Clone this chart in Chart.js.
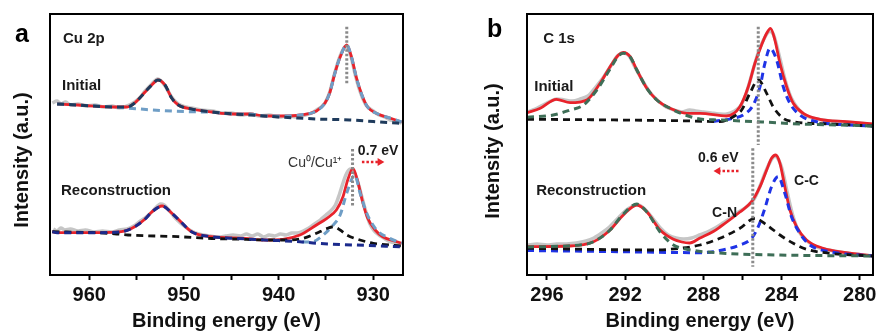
<!DOCTYPE html>
<html>
<head>
<meta charset="utf-8">
<script src="https://cdn.jsdelivr.net/npm/chart.js@4.4.1/dist/chart.umd.min.js"></script>
<style>
  body { margin: 0; background: #fff; }
  #wrap { position: relative; width: 880px; height: 335px; }
  canvas { position: absolute; top: 0; }
</style>
</head>
<body>
<div id="wrap">
  <canvas id="cuChart" width="440" height="335" style="left:0"></canvas>
  <canvas id="cChart" width="440" height="335" style="left:440px"></canvas>
</div>
<script>
// ---- Cu 2p (panel a) : [binding energy, intensity] ----
const aTicks = [960, 955, 950, 945, 940, 935, 930];
const aTickLabels = [960, 950, 940, 930];

const aInitRaw = [[963.9,172],[963.4,174],[963.0,171],[962.5,173],[962.0,170],[961.2,171],[960.3,169],[959.4,170],[958.5,168],[957.6,169],[956.8,167],[956.0,169],[955.2,173],[954.6,178],[954.1,184],[953.4,191],[952.8,196],[952.3,193],[951.8,186],[951.3,178],[950.6,171],[949.8,168],[949.2,167],[948.2,165],[947.0,164],[946.0,162],[945.0,162],[944.0,160],[943.0,161],[942.0,159],[941.0,160],[940.0,158],[939.0,159],[938.0,158],[937.2,160],[936.5,162],[936.0,165],[935.5,168],[935.1,172],[934.6,183],[934.1,201],[933.5,219],[932.9,229],[932.4,220],[931.9,200],[931.3,181],[930.7,169],[930.0,164],[929.4,160],[928.8,158],[928.2,155],[927.6,154],[927.0,152]];
const aInitFit = [[963.4,171],[961.2,170],[957.6,168],[956.0,168],[955.2,172],[954.1,183],[953.4,190],[952.75,195],[952.0,190],[951.3,177],[950.6,170],[949.2,166],[947.05,163],[944.8,161],[943.0,161],[941.45,159],[939.5,159],[937.75,160],[936.0,164],[935.1,172],[934.6,182],[934.05,202],[933.5,218],[932.8,230],[932.3,218],[931.8,198],[931.2,180],[930.6,168],[929.5,161],[928.25,157],[927.0,153]];
const aInit933 = [[963.4,171],[961.2,170],[957.6,168],[956.0,167],[954.0,165.5],[952.0,164.3],[950.0,163.5],[948.0,163],[947.05,162.8],[944.8,161],[943.0,161],[941.45,159],[939.5,159],[937.75,160],[936.0,164],[935.1,172],[934.6,182],[934.05,202],[933.5,218],[932.8,230],[932.3,218],[931.8,198],[931.2,180],[930.6,168],[929.5,161],[928.25,157],[927.0,153]];
const aInit953 = [[963.4,171],[961.2,170],[957.6,168],[956.0,168],[955.2,172],[954.1,183],[953.4,190],[952.75,195],[952.0,190],[951.3,177],[950.6,170],[949.2,166],[947.05,163],[944.8,161],[943.0,160],[940.0,158],[938.0,157],[936.0,156],[934.0,155.5],[932.5,155],[930.0,153.5],[928.5,152.5],[927.0,151.7]];

const aRecRaw = [[963.8,46],[963.4,44],[963.0,47],[962.6,45],[962.0,46],[961.2,44],[960.4,45],[959.5,43],[958.6,44],[957.6,43],[956.8,45],[956.0,46],[955.3,49],[954.6,54],[954.0,58],[953.4,63],[952.9,68],[952.5,71],[952.1,70],[951.6,65],[951.1,59],[950.6,54],[950.0,49],[949.4,45],[948.8,42],[948.0,40],[947.2,39],[946.4,38],[945.6,39],[944.8,40],[944.0,39],[943.4,41],[942.8,39],[942.2,41],[941.6,38],[941.0,40],[940.4,39],[939.8,41],[939.2,40],[938.6,42],[938.0,42],[937.4,44],[936.8,47],[936.2,51],[935.6,55],[935.0,60],[934.5,64],[934.0,70],[933.6,80],[933.2,92],[932.8,102],[932.4,106],[932.0,102],[931.6,92],[931.2,78],[930.8,64],[930.4,52],[929.9,44],[929.4,40],[928.9,37],[928.4,34],[927.8,32],[927.2,30]];
const aRecFit = [[963.9,43.3],[963.4,42.3],[959.4,42.3],[956.6,43.3],[955.2,48.3],[954.1,56],[953.4,63],[952.3,69],[951.3,62],[950.2,52],[949.2,43.3],[947.1,38.3],[943.6,36.7],[941.45,35],[939.55,35.7],[937.75,40],[936.0,50],[934.9,56.7],[933.9,65],[933.2,78.3],[932.7,95],[932.15,106.7],[931.6,92],[931.1,72],[930.6,57],[929.8,45],[929.0,38.3],[927.5,33.3],[927.0,31.7]];
const aRec952 = [[963.9,43.3],[963.4,42.3],[959.4,42.3],[956.6,43.3],[955.2,48.3],[954.1,56],[953.4,63],[952.3,69],[951.3,62],[950.2,52],[949.2,43.3],[947.1,38.3],[944.8,36.8],[941.5,35],[937.75,33.3],[936.0,31.7],[932.0,30],[927.0,28.3]];
const aRec934 = [[963.9,43.3],[959.4,42.3],[957.1,41],[955.9,40],[950.6,38.3],[947.05,36.5],[944.8,36],[941.0,35],[938.8,35],[937.4,36.7],[936.0,41.7],[935.0,46],[934.2,48.3],[933.5,45],[932.8,40],[931.4,35],[930.0,31.7],[928.25,30],[927.0,29]];
const aRec932 = [[937.5,33],[936.4,33.3],[935.5,38.3],[934.4,48.3],[933.5,60],[932.8,82],[931.95,100],[931.4,82],[930.7,62],[929.65,45],[928.25,36.7],[927.0,31.7]];

const aShiftInit = [[932.8,248.3],[932.8,190]];
const aShiftRec = [[932.19,126],[932.19,68]];
const aArrow = [[931.2,113],[929.3,113]];

// ---- C 1s (panel b) ----
const bTicks = [296, 294, 292, 290, 288, 286, 284, 282, 280];
const bTickLabels = [296, 292, 288, 284, 280];

const bInitRaw = [[297.0,163],[296.6,166],[296.2,170],[295.8,174],[295.5,176],[295.1,175],[294.7,174],[294.3,176],[293.9,179],[293.5,188],[293.1,198],[292.7,210],[292.4,219],[292.1,222],[291.8,219],[291.5,208],[291.1,194],[290.7,182],[290.3,174],[289.9,168],[289.5,165],[289.1,163],[288.7,165],[288.4,164],[288.0,163],[287.6,162],[287.2,161],[286.8,161],[286.4,164],[286.1,169],[285.8,182],[285.5,202],[285.2,222],[284.9,236],[284.6,244],[284.4,240],[284.1,218],[283.8,194],[283.5,177],[283.1,165],[282.7,159],[282.2,156],[281.5,154],[280.8,153],[280.0,152],[279.3,150]];
const bInitFit = [[297.02,162.3],[296.34,166.7],[295.52,175.7],[294.81,172.3],[293.96,175],[293.28,191.7],[292.77,208.3],[292.34,220],[292.09,222.7],[291.74,218.3],[291.4,205],[290.89,186.7],[290.38,175],[289.7,166.7],[288.85,161.7],[288.17,161.7],[286.81,159],[286.13,168.3],[285.7,188.3],[285.36,211.7],[285.02,230],[284.76,241.7],[284.56,246.7],[284.34,235],[284.08,211.7],[283.74,188.3],[283.4,171.7],[282.89,161.7],[282.04,155.7],[280.68,153.3],[279.32,151]];
const bInit292 = [[297.02,157.7],[295.68,160],[294.81,165],[294.13,170],[293.45,185],[292.77,206],[292.34,219],[292.09,221.7],[291.74,218],[291.4,205],[290.89,186.7],[290.38,175],[289.7,166.7],[288.85,159.5],[288.17,156],[287.15,155],[285.0,153],[283.06,151],[281.0,150],[279.32,149]];
const bInit285 = [[297.02,155.7],[292.26,155],[288.5,154],[287.15,153.3],[286.47,158.3],[286.04,165],[285.62,181.7],[285.19,195],[284.76,181.7],[284.43,168.3],[283.91,156.7],[283.4,153.3],[281.53,151],[279.32,149]];
const bInit284 = [[287.5,153.5],[286.47,156.7],[285.96,160],[285.45,170],[285.1,188.3],[284.85,211.7],[284.59,226.7],[284.25,215],[283.91,188.3],[283.57,171.7],[283.06,160],[282.21,153.3],[280.5,150],[279.32,149]];

const bRecRaw = [[297.0,30],[296.5,31],[296.0,30],[295.5,31],[295.0,31],[294.5,32],[294.0,34],[293.6,37],[293.2,42],[292.8,48],[292.4,56],[292.0,64],[291.6,69],[291.3,70],[291.0,66],[290.6,57],[290.2,47],[289.8,40],[289.4,37],[289.0,36],[288.6,37],[288.2,40],[287.8,43],[287.4,47],[287.0,52],[286.6,57],[286.2,63],[285.8,68],[285.4,76],[285.1,89],[284.8,104],[284.5,116],[284.3,119],[284.0,108],[283.7,82],[283.4,58],[283.1,43],[282.7,34],[282.2,28],[281.6,25],[281.0,23],[280.3,21],[279.3,19]];
const bRecFit = [[297.02,28.3],[294.81,29],[293.62,33.3],[292.77,45],[292.09,60],[291.4,70],[290.89,63.3],[290.21,45],[289.53,35.7],[289.1,33],[288.7,32],[288.17,37],[287.49,43.5],[287.15,48],[286.13,63],[285.53,73.3],[285.1,88.3],[284.76,105],[284.51,116.7],[284.3,120],[284.08,111.7],[283.83,88.3],[283.57,65],[283.23,48.3],[282.72,35],[281.87,26.7],[280.68,22.3],[279.32,19]];
const bRec291 = [[297.02,28],[293.96,31],[293.28,37],[292.77,45],[292.09,61],[291.4,71],[290.89,63],[290.21,43],[289.53,30],[288.85,25.7],[287.15,22],[284.08,20],[279.32,19]];
const bRecCN = [[297.02,26.7],[290.57,25],[289.18,26.7],[288.17,30],[287.15,36.7],[286.13,46.7],[285.36,56.7],[284.76,50],[284.08,40],[283.4,31.7],[282.72,25.7],[281.53,21.7],[279.32,19]];
const bRecCC = [[297.02,24.5],[292.26,23.3],[288.02,22.3],[287.49,23.3],[286.13,30],[285.53,36.7],[285.19,48.3],[284.85,66.7],[284.51,88.3],[284.17,98.3],[283.83,81.7],[283.49,58.3],[283.06,41.7],[282.55,30],[281.53,23.3],[279.32,19]];

const bShiftInit = [[285.19,248.3],[285.19,130]];
const bShiftRec = [[285.47,126.7],[285.47,8.3]];
const bArrow = [[286.2,104],[287.25,104]];

// colours
const RED = '#e8232b', GRAY = '#c6c6c6', DOT = '#8a8a8a';
const LIGHTBLUE = '#6f9ec6', NAVY = '#1f3b5c', DEEPNAVY = '#1b2a8c';
const BLACK = '#111111', BLUE = '#1f33e6', GREEN = '#3e6e57';
const FONT = '"Liberation Sans", Arial, sans-serif';

Chart.defaults.font.family = FONT;
Chart.defaults.color = '#111';

function curve(data, color, width, dash) {
  return {
    data: data,
    borderColor: color,
    borderWidth: width,
    borderDash: dash || [],
    pointRadius: 0,
    fill: false,
    cubicInterpolationMode: 'monotone'
  };
}

function raw(data) {
  return { data: data, borderColor: GRAY, borderWidth: 3.5, pointRadius: 0, fill: false, tension: 0.3 };
}

function dotted(data) {
  return { data: data, borderColor: DOT, borderWidth: 3, borderDash: [2.5, 2], pointRadius: 0, fill: false };
}

function arrow(data, rotation) {
  return {
    data: data,
    borderColor: RED,
    borderWidth: 2.5,
    borderDash: [2.5, 2],
    pointRadius: [0, 4.5],
    pointStyle: 'triangle',
    pointRotation: rotation,
    pointBackgroundColor: RED,
    pointBorderWidth: 0,
    fill: false
  };
}

// box around the plot area
const frame = {
  id: 'frame',
  afterDraw(chart) {
    const { ctx, chartArea: a } = chart;
    ctx.save();
    ctx.strokeStyle = '#000';
    ctx.lineWidth = 2;
    ctx.strokeRect(a.left, a.top, a.right - a.left, a.bottom - a.top);
    ctx.restore();
  }
};

// text labels placed in data coordinates
function notes(items) {
  return {
    id: 'notes',
    afterDatasetsDraw(chart) {
      const { ctx, scales } = chart;
      items.forEach(n => {
        ctx.save();
        ctx.font = n.font;
        ctx.fillStyle = n.color || '#1a1a1a';
        ctx.translate(scales.x.getPixelForValue(n.x), scales.y.getPixelForValue(n.y));
        if (n.rotate) {
          ctx.rotate(n.rotate * Math.PI / 180);
          ctx.textAlign = 'center';
          ctx.textBaseline = 'middle';
        } else {
          ctx.textAlign = 'left';
          ctx.textBaseline = 'alphabetic';
        }
        ctx.fillText(n.text, 0, 0);
        ctx.restore();
      });
    }
  };
}

const aNotes = [
  { text: 'a', x: 967.85, y: 233, font: 'bold 25px ' + FONT, color: '#000' },
  { text: 'Intensity (a.u.)', x: 967.1, y: 115, rotate: -90, font: 'bold 20px ' + FONT, color: '#111' },
  { text: 'Cu 2p', x: 962.78, y: 232, font: 'bold 15px ' + FONT },
  { text: 'Initial', x: 962.88, y: 185, font: 'bold 15px ' + FONT },
  { text: 'Reconstruction', x: 962.99, y: 80, font: 'bold 15px ' + FONT },
  { text: 'Cu\u2070/Cu\u00b9\u207a', x: 939.0, y: 108, font: '14px ' + FONT, color: '#333' },
  { text: '0.7 eV', x: 931.63, y: 120, font: 'bold 14px ' + FONT }
];

const bNotes = [
  { text: 'b', x: 299.07, y: 238, font: 'bold 25px ' + FONT, color: '#000' },
  { text: 'Intensity (a.u.)', x: 298.73, y: 124, rotate: -90, font: 'bold 20px ' + FONT, color: '#111' },
  { text: 'C 1s', x: 296.19, y: 232, font: 'bold 15px ' + FONT },
  { text: 'Initial', x: 296.65, y: 184, font: 'bold 15px ' + FONT },
  { text: 'Reconstruction', x: 296.55, y: 80, font: 'bold 15px ' + FONT },
  { text: '0.6 eV', x: 288.27, y: 113, font: 'bold 14px ' + FONT },
  { text: 'C-N', x: 287.55, y: 58, font: 'bold 14px ' + FONT },
  { text: 'C-C', x: 283.36, y: 90, font: 'bold 14px ' + FONT }
];

function makeOptions(xMin, xMax, ticks, labels, yAxisWidth, rightPad) {
  return {
    responsive: false,
    animation: false,
    devicePixelRatio: 1,
    layout: { padding: { left: 0, right: rightPad, top: 14, bottom: 0 } },
    plugins: { legend: { display: false }, tooltip: { enabled: false } },
    scales: {
      x: {
        type: 'linear',
        reverse: true,
        min: xMin,
        max: xMax,
        afterBuildTicks: s => { s.ticks = ticks.map(v => ({ value: v })); },
        afterFit: s => { s.height = 60; },
        ticks: {
          autoSkip: false,
          maxRotation: 0,
          padding: 3,
          color: '#111',
          font: { size: 20, weight: 'bold' },
          callback: v => labels.includes(v) ? String(v) : ''
        },
        grid: { drawOnChartArea: false, drawTicks: true, tickLength: 5, tickWidth: 2, tickColor: '#000' },
        border: { display: true, color: '#000', width: 2 },
        title: {
          display: true,
          text: 'Binding energy (eV)',
          color: '#111',
          font: { size: 20, weight: 'bold' },
          padding: { top: 0, bottom: 2 }
        }
      },
      y: {
        min: 0,
        max: 261,
        afterFit: s => { s.width = yAxisWidth; },
        ticks: { display: false },
        grid: { display: false },
        border: { display: false }
      }
    }
  };
}

// first dataset is drawn on top
new Chart(document.getElementById('cuChart'), {
  type: 'line',
  data: {
    datasets: [
      arrow(aArrow, 90),
      dotted(aShiftInit),
      dotted(aShiftRec),
      curve(aInit953, NAVY, 3, [7, 5]),
      curve(aInit933, LIGHTBLUE, 3, [7, 5]),
      curve(aInitFit, RED, 2.8),
      curve(aRec952, DEEPNAVY, 3, [7, 5]),
      curve(aRec934, BLACK, 2.8, [7, 5]),
      curve(aRec932, LIGHTBLUE, 3, [7, 5]),
      curve(aRecFit, RED, 2.8),
      raw(aInitRaw),
      raw(aRecRaw)
    ]
  },
  options: makeOptions(926.86, 964.15, aTicks, aTickLabels, 50, 37),
  plugins: [frame, notes(aNotes)]
});

new Chart(document.getElementById('cChart'), {
  type: 'line',
  data: {
    datasets: [
      arrow(bArrow, -90),
      dotted(bShiftInit),
      dotted(bShiftRec),
      curve(bInit292, GREEN, 3, [7, 5]),
      curve(bInit285, BLACK, 2.8, [7, 5]),
      curve(bInit284, BLUE, 3, [7, 5]),
      curve(bInitFit, RED, 2.8),
      curve(bRec291, GREEN, 3, [7, 5]),
      curve(bRecCN, BLACK, 2.8, [7, 5]),
      curve(bRecCC, BLUE, 3, [7, 5]),
      curve(bRecFit, RED, 2.8),
      raw(bInitRaw),
      raw(bRecRaw)
    ]
  },
  options: makeOptions(279.32, 297.02, bTicks, bTickLabels, 87, 7),
  plugins: [frame, notes(bNotes)]
});
</script>
</body>
</html>
